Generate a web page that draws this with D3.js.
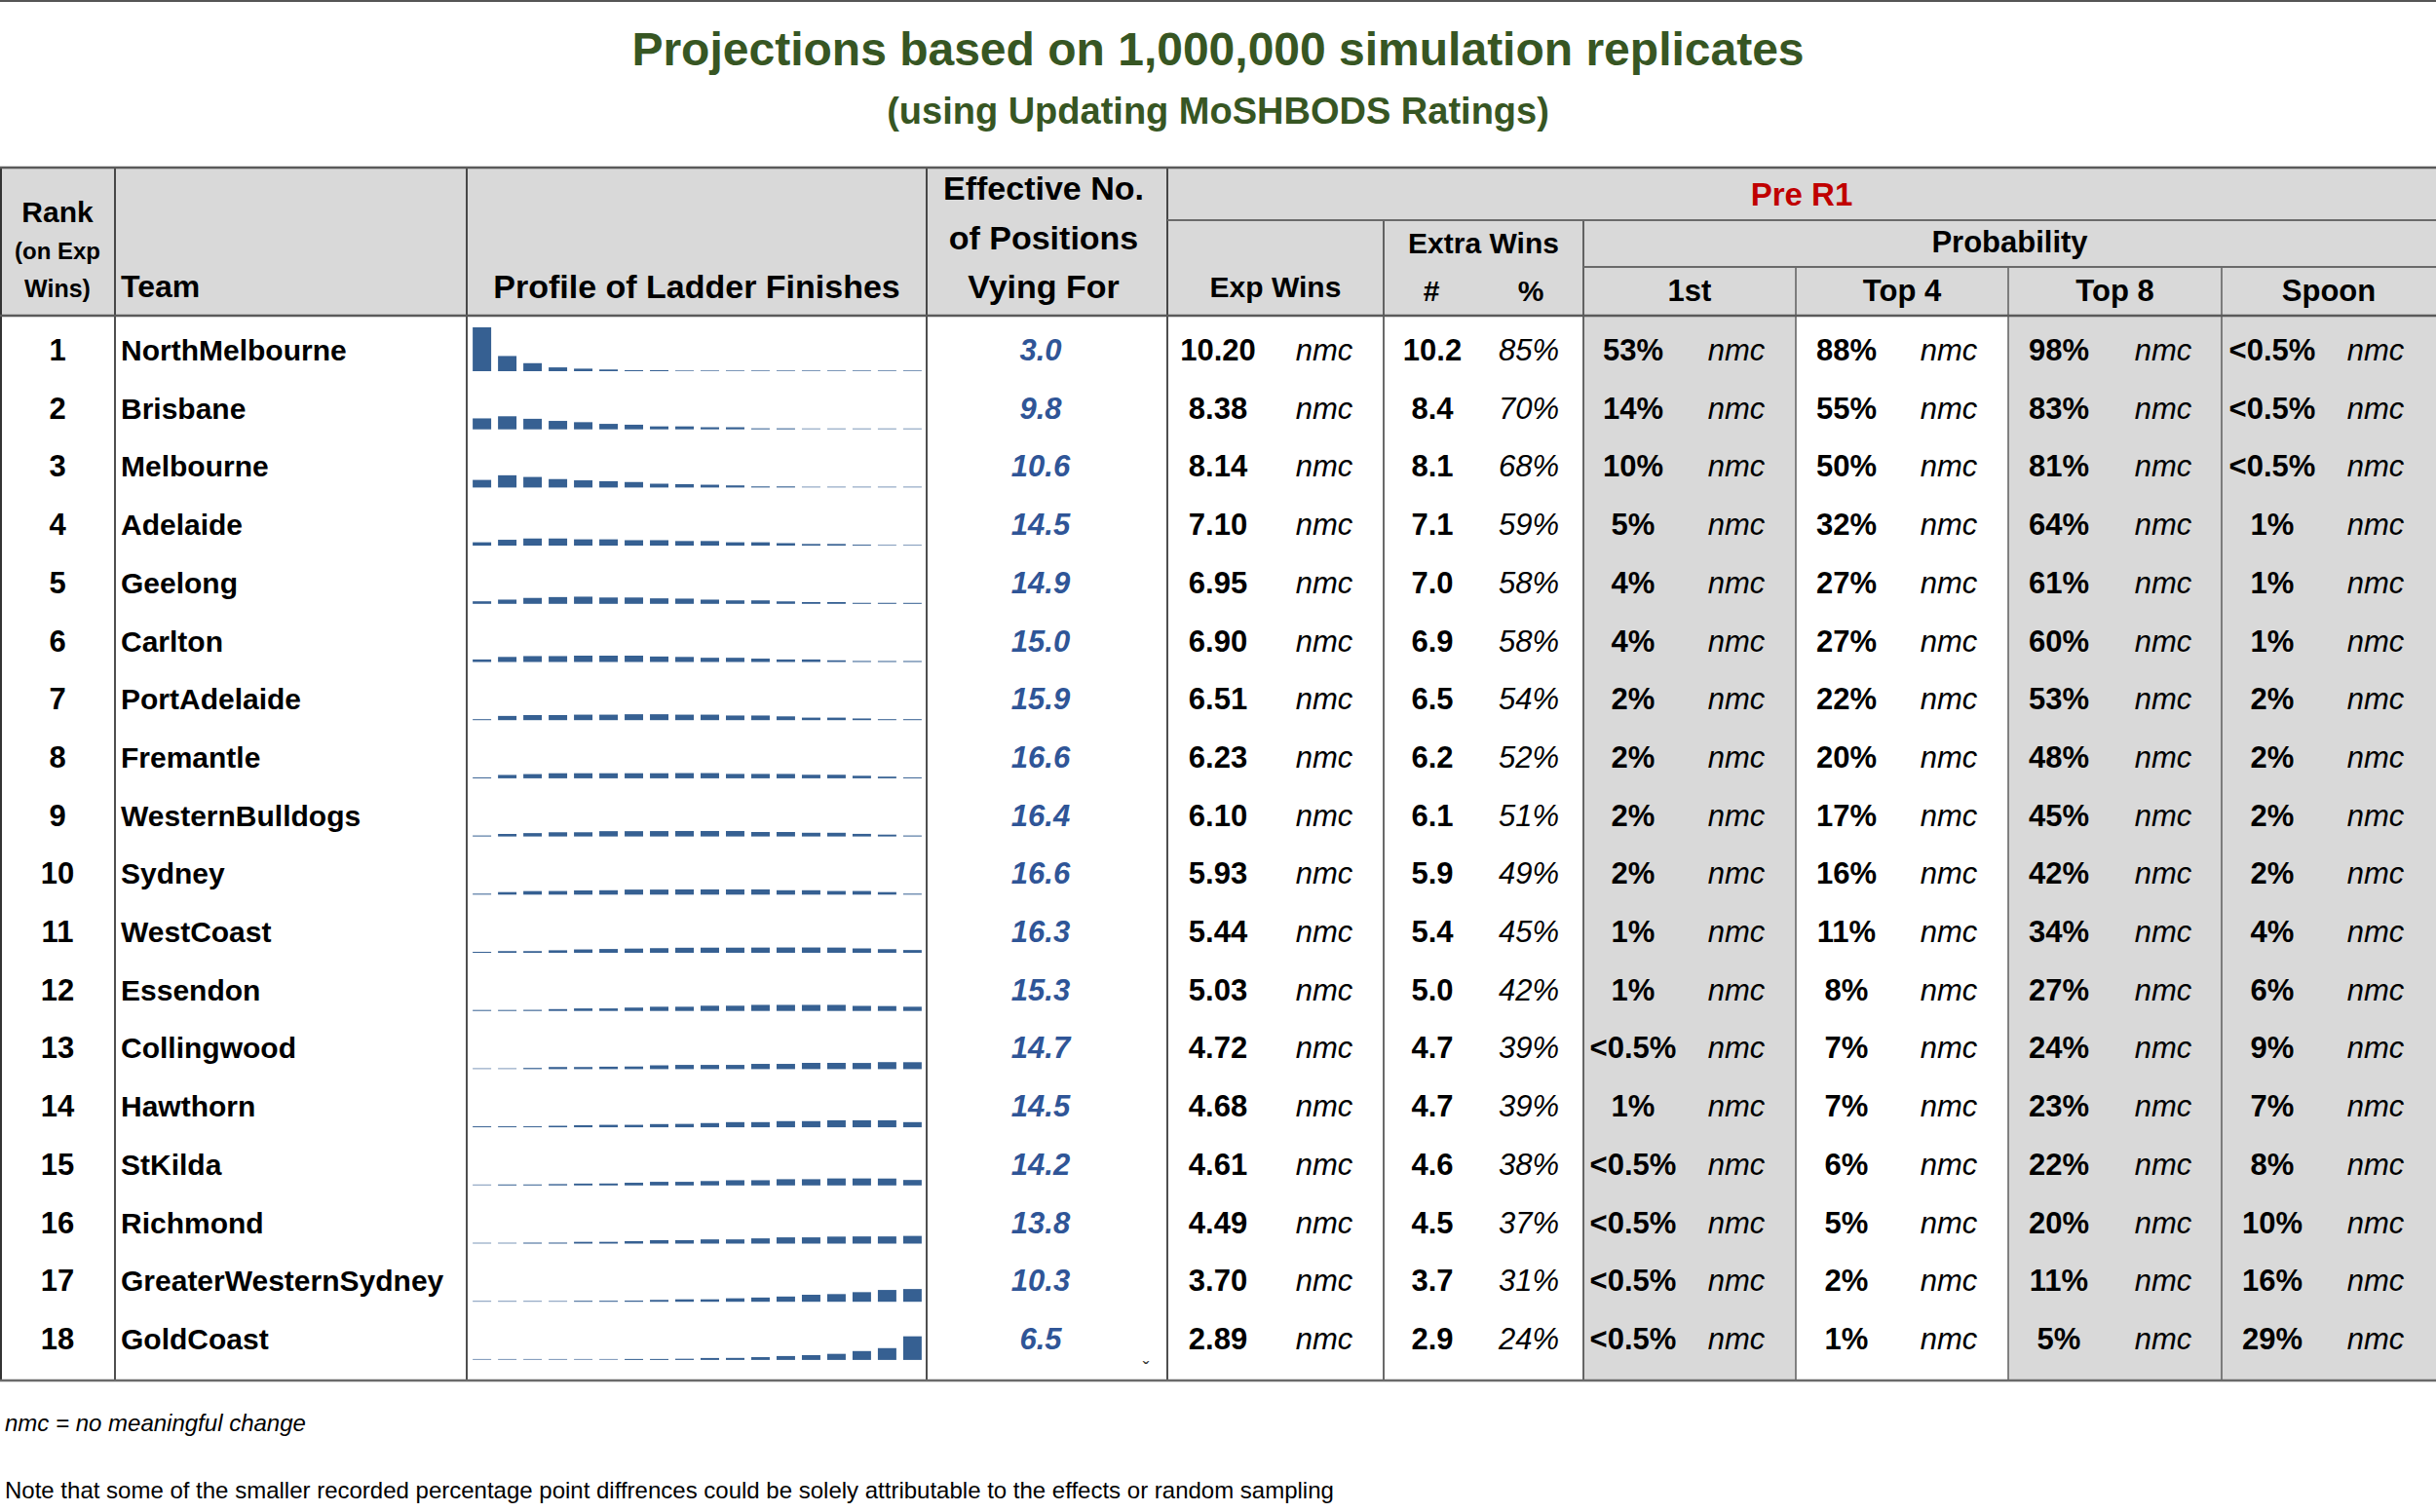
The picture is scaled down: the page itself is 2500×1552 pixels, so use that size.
<!DOCTYPE html>
<html>
<head>
<meta charset="utf-8">
<script src="https://cdn.jsdelivr.net/npm/d3@7"></script>
<style>
  body { margin: 0; background: #fff; }
  svg text { font-family: "Liberation Sans", Arial, sans-serif; }
</style>
</head>
<body>
<div id="wrapper"></div>
<script>
// Table values
const teams = [
  "NorthMelbourne", "Brisbane", "Melbourne", "Adelaide", "Geelong", "Carlton",
  "PortAdelaide", "Fremantle", "WesternBulldogs", "Sydney", "WestCoast", "Essendon",
  "Collingwood", "Hawthorn", "StKilda", "Richmond", "GreaterWesternSydney", "GoldCoast",
];
const effectivePositions = [3.0, 9.8, 10.6, 14.5, 14.9, 15.0, 15.9, 16.6, 16.4, 16.6, 16.3, 15.3, 14.7, 14.5, 14.2, 13.8, 10.3, 6.5];
const expWins = [10.20, 8.38, 8.14, 7.10, 6.95, 6.90, 6.51, 6.23, 6.10, 5.93, 5.44, 5.03, 4.72, 4.68, 4.61, 4.49, 3.70, 2.89];
const extraWins = [10.2, 8.4, 8.1, 7.1, 7.0, 6.9, 6.5, 6.2, 6.1, 5.9, 5.4, 5.0, 4.7, 4.7, 4.6, 4.5, 3.7, 2.9];
const extraWinsPct = [85, 70, 68, 59, 58, 58, 54, 52, 51, 49, 45, 42, 39, 39, 38, 37, 31, 24];
const probFirst = ["53%", "14%", "10%", "5%", "4%", "4%", "2%", "2%", "2%", "2%", "1%", "1%", "<0.5%", "1%", "<0.5%", "<0.5%", "<0.5%", "<0.5%"];
const probTop4 = ["88%", "55%", "50%", "32%", "27%", "27%", "22%", "20%", "17%", "16%", "11%", "8%", "7%", "7%", "6%", "5%", "2%", "1%"];
const probTop8 = ["98%", "83%", "81%", "64%", "61%", "60%", "53%", "48%", "45%", "42%", "34%", "27%", "24%", "23%", "22%", "20%", "11%", "5%"];
const probSpoon = ["<0.5%", "<0.5%", "<0.5%", "1%", "1%", "1%", "2%", "2%", "2%", "2%", "4%", "6%", "9%", "7%", "8%", "10%", "16%", "29%"];
const changeLabel = "nmc";

// Probability (%) of finishing in ladder positions 1..18, one list per team
const ladderPositions = d3.range(1, 19);
const ladderProfiles = [
  [53, 19, 10.5, 5.5, 4, 3, 1.8, 1.2, 0.6, 0.4, 0.3, 0.2, 0.15, 0.1, 0.1, 0.05, 0.05, 0.05],
  [14, 16.5, 13.5, 11, 9.5, 7.5, 6.5, 4.5, 4.5, 3.5, 3.5, 2.2, 2.2, 0.4, 0.3, 0.2, 0.1, 0.1],
  [10, 15.5, 13.5, 11, 9.5, 8.5, 7.5, 5.5, 5, 4.3, 3.5, 2.3, 2.3, 0.6, 0.4, 0.3, 0.2, 0.1],
  [5, 8, 9.5, 9.5, 8.5, 8.5, 7.5, 7.5, 6.5, 6.5, 5, 5, 4, 3, 3, 1.8, 0.7, 0.8],
  [4, 6, 8, 9, 9.5, 8.5, 8.5, 7.5, 7.2, 6, 5.1, 5.1, 3.9, 3.1, 3.1, 2.2, 2.2, 1.1],
  [4, 7, 8, 8, 8.5, 8.5, 8.5, 7.5, 7, 6, 6, 5, 4, 4, 3, 2.2, 1.8, 1.0],
  [2, 6, 7, 7, 7.5, 7.5, 8, 8, 7.5, 7.5, 6.5, 6.5, 5.5, 4, 4, 3, 2, 1.5],
  [2, 5, 6, 7, 7, 7, 7, 7, 7.2, 7.2, 6.2, 6.2, 6.2, 5.2, 5.2, 4, 3, 1.8],
  [2, 4, 5, 6, 6, 7.3, 7.3, 7.4, 7.5, 7.5, 7.5, 6.3, 6.3, 5.4, 5.4, 4.1, 3.2, 2.0],
  [1.5, 4, 5.2, 5.3, 6, 6.2, 7, 7, 7.2, 7.2, 7.2, 7.2, 6.2, 6.2, 5.3, 5.3, 4, 2],
  [1, 3, 3, 4, 5, 5.5, 6, 6.5, 7, 7.1, 7.1, 7.2, 7.3, 7.3, 7.2, 6.2, 5.3, 4.3],
  [1, 1.5, 2.3, 3.2, 4, 4, 5, 6, 6, 7.2, 7.2, 8.2, 8.2, 8.2, 8.2, 7, 6.8, 6],
  [0.3, 0.8, 2.4, 3.5, 3.5, 3.9, 4.1, 5.5, 6, 6, 6, 7.2, 7.2, 8.4, 8.4, 8.3, 9.3, 9.2],
  [1, 1.2, 2, 2.8, 3.4, 3.9, 3.9, 4.8, 5, 6, 7.1, 7.1, 8.3, 8.3, 9.3, 9.3, 9.3, 7.1],
  [0.4, 1, 2, 2.6, 3.2, 3.3, 4.2, 5.3, 5.3, 6.2, 7.2, 7.2, 8.4, 8.4, 9.3, 9.3, 9.2, 7.5],
  [0.3, 0.6, 1.9, 2.2, 3.1, 3.1, 3.9, 5.1, 5.1, 6, 6, 7.2, 8.4, 8.4, 9.3, 9.5, 9.5, 10.1],
  [0.2, 0.4, 0.6, 0.8, 1.2, 2.2, 2.4, 3.2, 3.9, 3.9, 5.1, 6, 7.2, 9.3, 10.1, 12.4, 15, 16.1],
  [0.1, 0.2, 0.3, 0.4, 0.6, 0.8, 1.1, 1.5, 2.4, 3.3, 3.4, 4.3, 5.6, 6.7, 8.2, 11.5, 15, 29],
];

function drawTable() {
  const dimensions = {
    width: 2500,
    height: 1552,
    tableTop: 172,
    preRowBottom: 226,
    probRowBottom: 274,
    headerBottom: 324,
    tableBottom: 1417,
    firstRow: 330,
    rowStep: 59.7,
  };

  // Column edges
  const cols = {
    rank: [0, 118],
    team: [118, 479],
    profile: [479, 951],
    eff: [951, 1198],
    exp: [1198, 1420],
    extra: [1420, 1625],
    first: [1625, 1843],
    top4: [1843, 2061],
    top8: [2061, 2280],
    spoon: [2280, 2500],
  };
  const mid = (c) => (c[0] + c[1]) / 2;

  // Draw canvas
  const wrapper = d3
    .select("#wrapper")
    .append("svg")
    .attr("width", dimensions.width)
    .attr("height", dimensions.height);

  wrapper.append("rect").attr("x", 0).attr("y", 0).attr("width", dimensions.width).attr("height", 2).attr("fill", "#555");

  // Title
  wrapper
    .append("text")
    .attr("x", 1250)
    .attr("y", 67)
    .attr("text-anchor", "middle")
    .attr("font-size", 48)
    .attr("font-weight", "bold")
    .attr("fill", "#375623")
    .text("Projections based on 1,000,000 simulation replicates");

  wrapper
    .append("text")
    .attr("x", 1250)
    .attr("y", 127)
    .attr("text-anchor", "middle")
    .attr("font-size", 38)
    .attr("font-weight", "bold")
    .attr("fill", "#375623")
    .text("(using Updating MoSHBODS Ratings)");

  // Backgrounds
  wrapper
    .append("rect")
    .attr("x", 0)
    .attr("y", dimensions.tableTop)
    .attr("width", dimensions.width)
    .attr("height", dimensions.headerBottom - dimensions.tableTop)
    .attr("fill", "#d9d9d9");

  [cols.first, cols.top8, cols.spoon].forEach((c) => {
    wrapper
      .append("rect")
      .attr("x", c[0])
      .attr("y", dimensions.headerBottom)
      .attr("width", c[1] - c[0])
      .attr("height", dimensions.tableBottom - dimensions.headerBottom)
      .attr("fill", "#d9d9d9");
  });

  // Header texts
  const header = wrapper.append("g").attr("font-weight", "bold").attr("fill", "#000");
  const addHeader = (x, y, label, size, anchor = "middle", color = "#000") =>
    header
      .append("text")
      .attr("x", x)
      .attr("y", y)
      .attr("text-anchor", anchor)
      .attr("font-size", size)
      .attr("fill", color)
      .text(label);

  addHeader(mid(cols.rank), 228, "Rank", 30);
  addHeader(mid(cols.rank), 266, "(on Exp", 24);
  addHeader(mid(cols.rank), 305, "Wins)", 25);
  addHeader(124, 305, "Team", 32, "start");
  addHeader(mid(cols.profile), 306, "Profile of Ladder Finishes", 34);
  addHeader(1071, 205, "Effective No.", 34);
  addHeader(1071, 256, "of Positions", 34);
  addHeader(1071, 306, "Vying For", 34);
  addHeader(mid([cols.exp[0], cols.spoon[1]]), 211, "Pre R1", 33, "middle", "#c00000");
  addHeader(mid(cols.extra), 260, "Extra Wins", 30);
  addHeader(mid([cols.first[0], cols.spoon[1]]), 259, "Probability", 31);
  addHeader(mid(cols.exp), 305, "Exp Wins", 30);
  addHeader(1469, 309, "#", 30);
  addHeader(1571, 309, "%", 30);
  addHeader(mid(cols.first), 309, "1st", 31);
  addHeader(mid(cols.top4), 309, "Top 4", 31);
  addHeader(mid(cols.top8), 309, "Top 8", 31);
  addHeader(mid(cols.spoon), 309, "Spoon", 31);

  // Row scale
  const yScale = d3
    .scaleBand()
    .domain(teams)
    .range([dimensions.firstRow, dimensions.firstRow + teams.length * dimensions.rowStep]);

  // Sparkline scales
  const xBar = d3
    .scaleBand()
    .domain(ladderPositions)
    .range([482, 949])
    .paddingInner(0.27)
    .paddingOuter(0.12);

  const hBar = d3.scaleLinear().domain([1, 53]).range([0, 45]).clamp(true);

  const rows = wrapper
    .selectAll(".row")
    .data(teams)
    .enter()
    .append("g")
    .attr("class", "row")
    .attr("transform", (d) => `translate(0, ${yScale(d)})`);

  const baseline = 40;
  const sparkBase = 51;
  const barHeight = (v) => Math.max(1, hBar(v));

  // Ladder finish sparklines
  rows
    .selectAll("rect")
    .data((d, i) => ladderProfiles[i].map((v, j) => ({ pos: ladderPositions[j], v })))
    .enter()
    .append("rect")
    .attr("x", (d) => xBar(d.pos))
    .attr("width", xBar.bandwidth())
    .attr("y", (d) => sparkBase - barHeight(d.v))
    .attr("height", (d) => barHeight(d.v))
    .attr("fill", "#366092")
    .attr("fill-opacity", (d) => (d.v < 1 ? 0.65 : 1));

  const cellText = (x, accessor, opts = {}) =>
    rows
      .append("text")
      .attr("x", x)
      .attr("y", baseline)
      .attr("text-anchor", opts.anchor || "middle")
      .attr("font-size", opts.size || 31)
      .attr("font-weight", opts.bold === false ? "normal" : "bold")
      .attr("font-style", opts.italic ? "italic" : "normal")
      .attr("fill", opts.color || "#000")
      .text(accessor);

  cellText(mid(cols.rank), (d, i) => i + 1);
  cellText(124, (d) => d, { anchor: "start", size: 30 });
  cellText(1068, (d, i) => effectivePositions[i].toFixed(1), { italic: true, color: "#2f5597" });
  cellText(1250, (d, i) => expWins[i].toFixed(2));
  cellText(1470, (d, i) => extraWins[i].toFixed(1));
  cellText(1569, (d, i) => extraWinsPct[i] + "%", { italic: true, bold: false });
  cellText(1676, (d, i) => probFirst[i]);
  cellText(1895, (d, i) => probTop4[i]);
  cellText(2113, (d, i) => probTop8[i]);
  cellText(2332, (d, i) => probSpoon[i]);
  [1359, 1782, 2000, 2220, 2438].forEach((x) =>
    cellText(x, changeLabel, { italic: true, bold: false })
  );

  // Grid lines
  const lines = wrapper.append("g");
  const hLine = (x1, x2, y, color, w) =>
    lines.append("line").attr("x1", x1).attr("x2", x2).attr("y1", y).attr("y2", y).attr("stroke", color).attr("stroke-width", w);
  const vLine = (x, y1, y2, color, w) =>
    lines.append("line").attr("x1", x).attr("x2", x).attr("y1", y1).attr("y2", y2).attr("stroke", color).attr("stroke-width", w);

  vLine(1, dimensions.tableTop, dimensions.tableBottom, "#333", 2);
  [cols.team[0], cols.profile[0], cols.eff[0], cols.exp[0]].forEach((x) =>
    vLine(x, dimensions.tableTop, dimensions.tableBottom, "#222", 1.6)
  );
  [cols.extra[0], cols.first[0]].forEach((x) =>
    vLine(x, dimensions.preRowBottom, dimensions.tableBottom, "#444", 1.6)
  );
  [cols.top4[0], cols.top8[0], cols.spoon[0]].forEach((x) =>
    vLine(x, dimensions.probRowBottom, dimensions.tableBottom, "#555", 1.4)
  );

  hLine(0, dimensions.width, dimensions.tableTop, "#5a5a5a", 2.5);
  hLine(cols.exp[0], dimensions.width, dimensions.preRowBottom, "#6a6a6a", 2);
  hLine(cols.first[0], dimensions.width, dimensions.probRowBottom, "#6a6a6a", 2);
  hLine(0, dimensions.width, dimensions.headerBottom, "#5a5a5a", 2.5);
  hLine(0, dimensions.width, dimensions.tableBottom, "#6a6a6a", 2.5);

  // Small mark under the last row
  wrapper
    .append("text")
    .attr("x", 1176)
    .attr("y", 1412)
    .attr("text-anchor", "middle")
    .attr("font-size", 20)
    .attr("fill", "#333")
    .text("ˇ");

  // Footnotes
  wrapper
    .append("text")
    .attr("x", 5)
    .attr("y", 1469)
    .attr("font-size", 24)
    .attr("font-style", "italic")
    .attr("fill", "#000")
    .text("nmc = no meaningful change");

  wrapper
    .append("text")
    .attr("x", 5)
    .attr("y", 1538)
    .attr("font-size", 24)
    .attr("fill", "#000")
    .text("Note that some of the smaller recorded percentage point diffrences could be solely attributable to the effects or random sampling");
}

drawTable();
</script>
</body>
</html>
